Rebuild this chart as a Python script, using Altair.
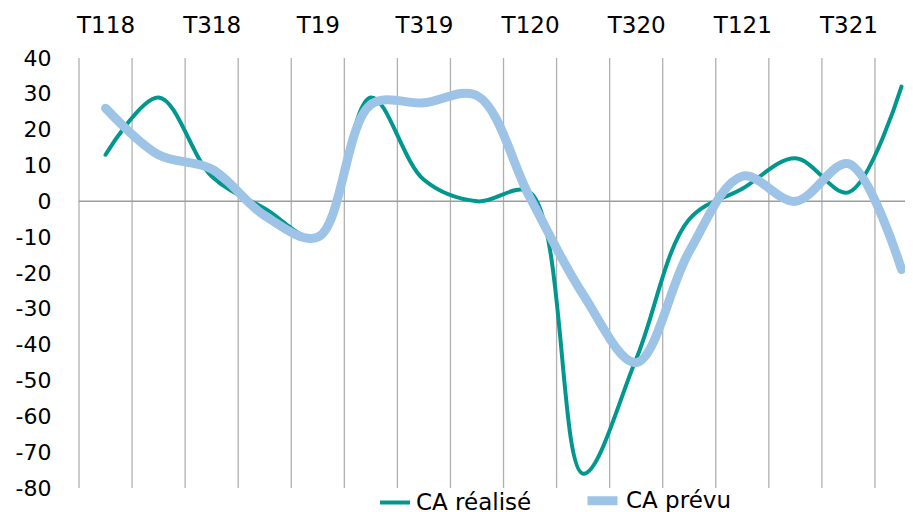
import altair as alt
import pandas as pd

categories = ['T118', 'T218', 'T318', 'T418', 'T19', 'T219', 'T319', 'T419',
              'T120', 'T220', 'T320', 'T420', 'T121', 'T221', 'T321', 'T421']
ca_realise = [13, 29, 7, -2, -10, 29, 6, 0, 2.5, -76, -44, -5, 3.5, 12, 2.5, 32]
ca_prevu = [26, 13, 9, -4, -10, 27, 27.5, 29.5, 1, -26, -45, -14, 7, 0, 10.5, -19]
series_names = ['CA réalisé', 'CA prévu']
series_colors = ['#00978F', '#9DC3E6']
series_widths = [4, 9]
y_ticks = list(range(-80, 41, 10))
label_idx = list(range(0, 16, 2))

rows = []
for name, vals in zip(series_names, [ca_realise, ca_prevu]):
    for i, (c, v) in enumerate(zip(categories, vals)):
        rows.append({'i': i, 'cat': c, 'series': name, 'value': v})
df = pd.DataFrame(rows)
grid_df = pd.DataFrame({'i': [k - 0.5 for k in range(len(categories))]})
zero_df = pd.DataFrame({'value': [0]})

FONT = 'DejaVu Sans'
label_array = '[' + ','.join("'" + c + "'" for c in categories) + ']'

x_enc = alt.X('i:Q',
              scale=alt.Scale(domain=[-0.5, 15.066], nice=False, zero=False),
              axis=alt.Axis(orient='top', values=label_idx,
                            labelExpr=label_array + '[datum.value]',
                            grid=False, domain=False, ticks=False, tickSize=0,
                            labelPadding=21, labelFontSize=23, labelFont=FONT,
                            labelColor='black', title=None, labelFlush=False,
                            labelOverlap=False))
y_scale = alt.Scale(domain=[-80, 40], nice=False, zero=False)
y_axis = alt.Axis(values=y_ticks, labelExpr="'' + datum.value",
                  grid=False, domain=False, ticks=False, tickSize=0,
                  labelPadding=28, labelFontSize=22, labelFont=FONT, labelColor='black',
                  title=None, labelOverlap=False, labelFlush=False)

legend = alt.Legend(orient='none', legendX=299, legendY=423, direction='horizontal',
                    title=None, symbolType='stroke', symbolSize=900,
                    labelFontSize=23, labelFont=FONT, labelColor='black',
                    labelOffset=4, columnPadding=37, padding=0)
color_enc = alt.Color('series:N', scale=alt.Scale(domain=series_names, range=series_colors),
                      legend=legend)
width_enc = alt.StrokeWidth('series:N', scale=alt.Scale(domain=series_names, range=series_widths),
                            legend=legend)

grid = alt.Chart(grid_df).mark_rule(color='#b0b0b0', strokeWidth=1.3).encode(x=x_enc)
zero = alt.Chart(zero_df).mark_rule(color='#9c9c9c', strokeWidth=1.5).encode(
    y=alt.Y('value:Q', scale=y_scale, axis=y_axis))


def line_layer(name):
    return alt.Chart(df).transform_filter(alt.datum.series == name).mark_line(
        interpolate='catmull-rom', strokeCap='round', strokeJoin='round'
    ).encode(
        x=x_enc,
        y=alt.Y('value:Q', scale=y_scale, axis=y_axis),
        color=color_enc,
        strokeWidth=width_enc,
    )


chart = alt.layer(grid, zero, line_layer(series_names[0]), line_layer(series_names[1])).properties(
    width=826, height=430,
    padding={'left': 71, 'top': 50, 'right': 0, 'bottom': 24},
    autosize=alt.AutoSizeParams(type='none'),
).configure_view(stroke=None)

chart.save('out.html', embed_options={'renderer': 'svg', 'actions': False})
